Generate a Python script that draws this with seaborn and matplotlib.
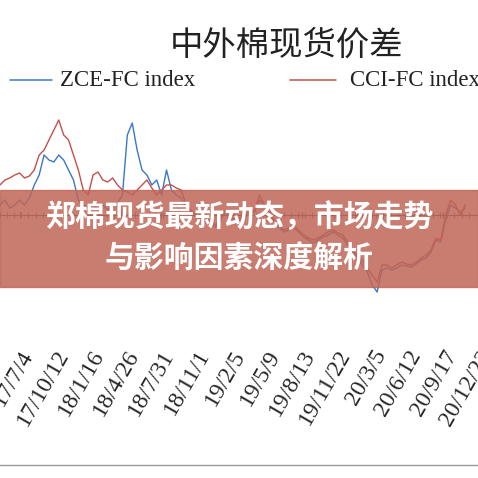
import numpy as np
import pandas as pd
import seaborn as sns
import matplotlib.pyplot as plt
from matplotlib.patches import Rectangle

# values (spread, arbitrary units, 0 = axis line)
red_px = [185,180,178,175,173,178,176,170,155,150,140,130,120,135,140,155,170,190,195,175,
          172,180,182,178,185,190,192,195,190,185,180,188,195,190,185,185,188,190,205,210,
          215,218,220,222,225,218,210,215,222,218,215,212,210,195,205,212,220,225,230,228,
          225,230,235,238,240,238,235,232,230,233,235,242,250,255,260,268,275,282,265,265,
          268,265,262,264,265,262,258,255,250,238,240,215,200,205,215,205]
blue_px = [205,200,208,205,200,205,198,185,175,155,160,162,155,160,170,180,200,205,208,205,
           210,205,210,205,203,195,135,123,150,170,175,185,180,195,170,190,195,198,208,212,
           217,220,222,224,227,220,212,217,224,220,217,214,212,200,207,214,222,228,232,230,
           228,232,237,240,243,240,237,235,232,235,238,245,252,258,265,272,285,292,270,268,
           270,268,265,266,267,264,260,258,252,240,242,220,205,208,212,208]
zce = [215 - v for v in blue_px]
cci = [215 - v for v in red_px]
dates = ["17/7/4", "17/10/12", "18/1/16", "18/4/26", "18/7/31", "18/11/1", "19/2/5",
         "19/5/9", "19/8/13", "19/11/22", "20/3/5", "20/6/12", "20/9/17", "20/12/23"]

df = pd.DataFrame({"i": np.arange(len(zce)), "ZCE-FC index": zce, "CCI-FC index": cci})
long = df.melt(id_vars="i", var_name="s", value_name="v")

sns.set_style("white")
plt.rcParams['font.family'] = ['Liberation Serif', 'Noto Sans CJK SC']

fig = plt.figure(figsize=(4.78, 4.78), dpi=100)
ax = fig.add_axes([0, 1 - 300/478, 1, 190/478])
sns.lineplot(data=long, x="i", y="v", hue="s", palette=["#3b78c4", "#c4504c"],
             linewidth=1.0, ax=ax, legend=False)
ax.set_xlim(0, 95.6)
ax.set_ylim(-85, 105)
for s in ["top", "right", "left"]:
    ax.spines[s].set_visible(False)
ax.spines["bottom"].set_position(("data", 0))
ax.spines["bottom"].set_color("#555555")
ax.set_yticks([])
ax.set_xlabel("")
ax.set_ylabel("")
ax.set_xticks([4 + 7.2 * k for k in range(len(dates))])
ax.set_xticklabels(dates, rotation=60, ha="right", rotation_mode="anchor", fontsize=17)
ax.set_xticks(np.arange(0, 96, 1.45), minor=True)
ax.tick_params(axis="x", which="both", direction="inout", length=5, color="#555555", bottom=True)
ax.tick_params(axis="x", which="major", pad=92)

fig.text(0.6, 1 - 45/478, "中外棉现货价差", family=['Noto Sans CJK SC'], fontsize=24,
         ha="center", va="center", color="#222222")
# legend
fig.add_artist(plt.Line2D([10/478, 52/478], [1 - 80/478] * 2, color="#3b78c4", lw=1.1))
fig.text(60/478, 1 - 80/478, "ZCE-FC index", fontsize=16.5, va="center", color="#222222")
fig.add_artist(plt.Line2D([290/478, 336/478], [1 - 80/478] * 2, color="#c4504c", lw=1.1))
fig.text(350/478, 1 - 80/478, "CCI-FC index", fontsize=16.5, va="center", color="#222222")

# overlay banner
fig.patches.append(Rectangle((0, 1 - 287/478), 1, 97/478, transform=fig.transFigure,
                             color=(0.75, 0.40, 0.34), alpha=0.85, zorder=5))
fig.text(0.5, 1 - 218/478, "郑棉现货最新动态，市场走势", family=['Noto Sans CJK SC'],
         fontsize=21.5, fontweight="bold", color="white", ha="center", va="center", zorder=6)
fig.text(0.5, 1 - 259/478, "与影响因素深度解析", family=['Noto Sans CJK SC'],
         fontsize=21.5, fontweight="bold", color="white", ha="center", va="center", zorder=6)
fig.add_artist(plt.Line2D([0, 1], [1 - 465/478] * 2, color="#999999", lw=1))

fig.savefig("out.png", dpi=100)
